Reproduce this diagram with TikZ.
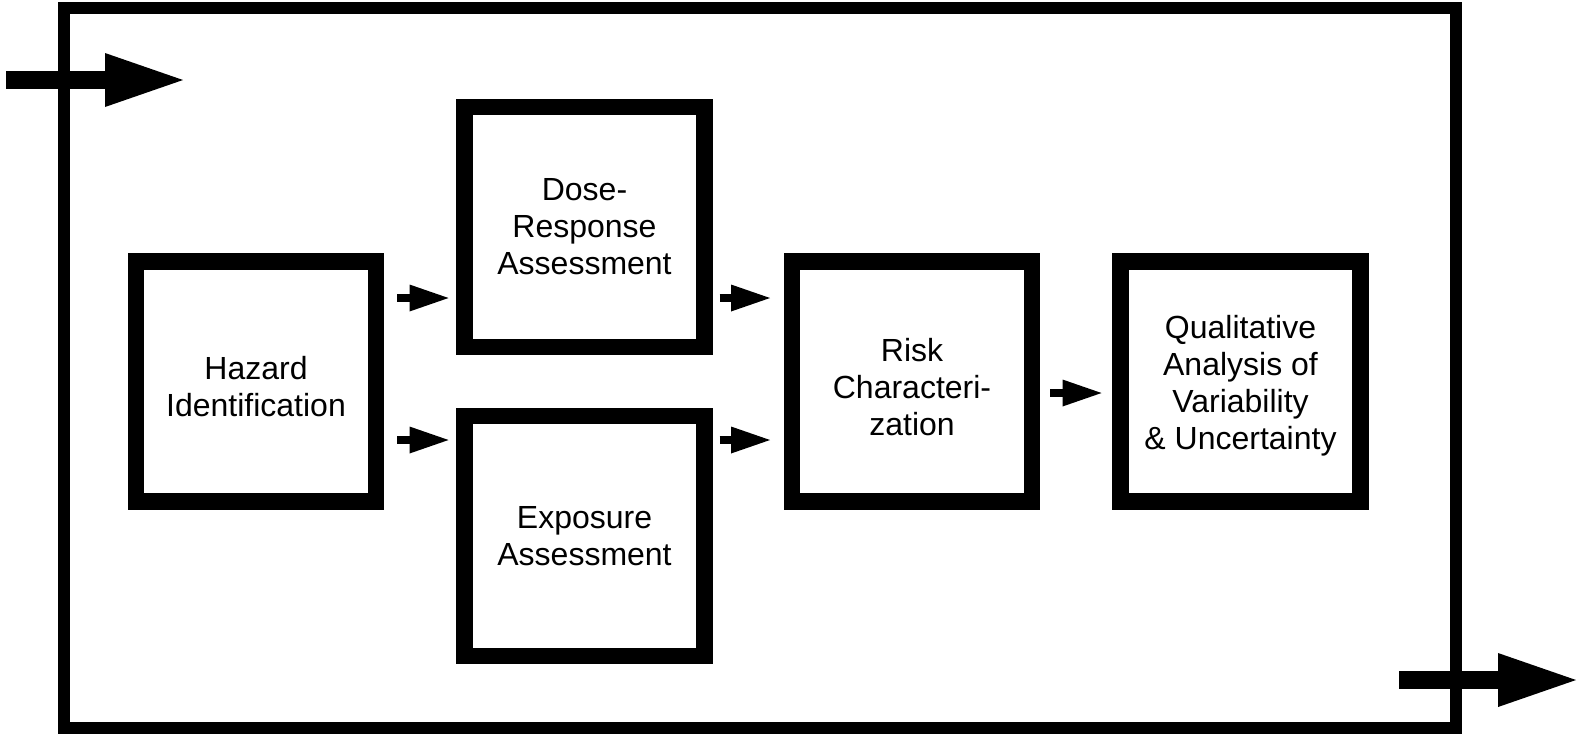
\documentclass[tikz,border=0pt]{standalone}
\usepackage{fontspec}
\setmainfont{Liberation Sans}
\usetikzlibrary{arrows.meta}
\begin{document}
\begin{tikzpicture}[x=1pt,y=-1pt,
  stagebox/.style={draw=black, line width=16.5pt, fill=white, outer sep=0pt, inner sep=0pt,
    minimum width=240pt, minimum height=240pt, align=center,
    font=\fontsize{32}{37}\selectfont},
  bigarrow/.style={line width=18.5pt, -{Triangle[length=78pt,width=54pt,line width=0pt]}},
  smallarrow/.style={line width=8pt, -{Triangle[length=39pt,width=27pt,line width=0pt]}},
  frameline/.style={draw=black, line width=12.5pt}
]
\useasboundingbox (0,0) rectangle (1578,734);
\fill[white] (0,0) rectangle (1578,734);
% outer frame
\draw[frameline] (64,8) rectangle (1456,728);
% stages
\node[stagebox] (haz) at (256,381.5) {\rule{0pt}{33pt}Hazard\\Identification};
\node[stagebox] (dose) at (584.5,227) {Dose-\\Response\\Assessment};
\node[stagebox] (expo) at (584.5,536) {Exposure\\Assessment};
\node[stagebox] (risk) at (912,381.5) {\rule{0pt}{35pt}Risk\\Characteri-\\zation};
\node[stagebox] (qual) at (1240.5,381.5) {\rule{0pt}{31pt}Qualitative\\Analysis of\\Variability\\\& Uncertainty};
% rows for small connectors
\coordinate (rowa) at (0,298);
\coordinate (rowb) at (0,440);
\coordinate (rowc) at (0,393);
\draw[smallarrow, shorten <=21pt, shorten >=16pt] (haz.east |- rowa) -- (dose.west |- rowa);
\draw[smallarrow, shorten <=21pt, shorten >=16pt] (haz.east |- rowb) -- (expo.west |- rowb);
\draw[smallarrow, shorten <=15pt, shorten >=22pt] (dose.east |- rowa) -- (risk.west |- rowa);
\draw[smallarrow, shorten <=15pt, shorten >=22pt] (expo.east |- rowb) -- (risk.west |- rowb);
\draw[smallarrow, shorten <=18pt, shorten >=19pt] (risk.east |- rowc) -- (qual.west |- rowc);
% input and output arrows
\coordinate (instart) at (6,80);
\coordinate (inend) at (183,80);
\coordinate (outstart) at (1399,680);
\coordinate (outend) at (1576,680);
\draw[bigarrow] (instart) -- (inend);
\draw[bigarrow] (outstart) -- (outend);
\end{tikzpicture}
\end{document}
